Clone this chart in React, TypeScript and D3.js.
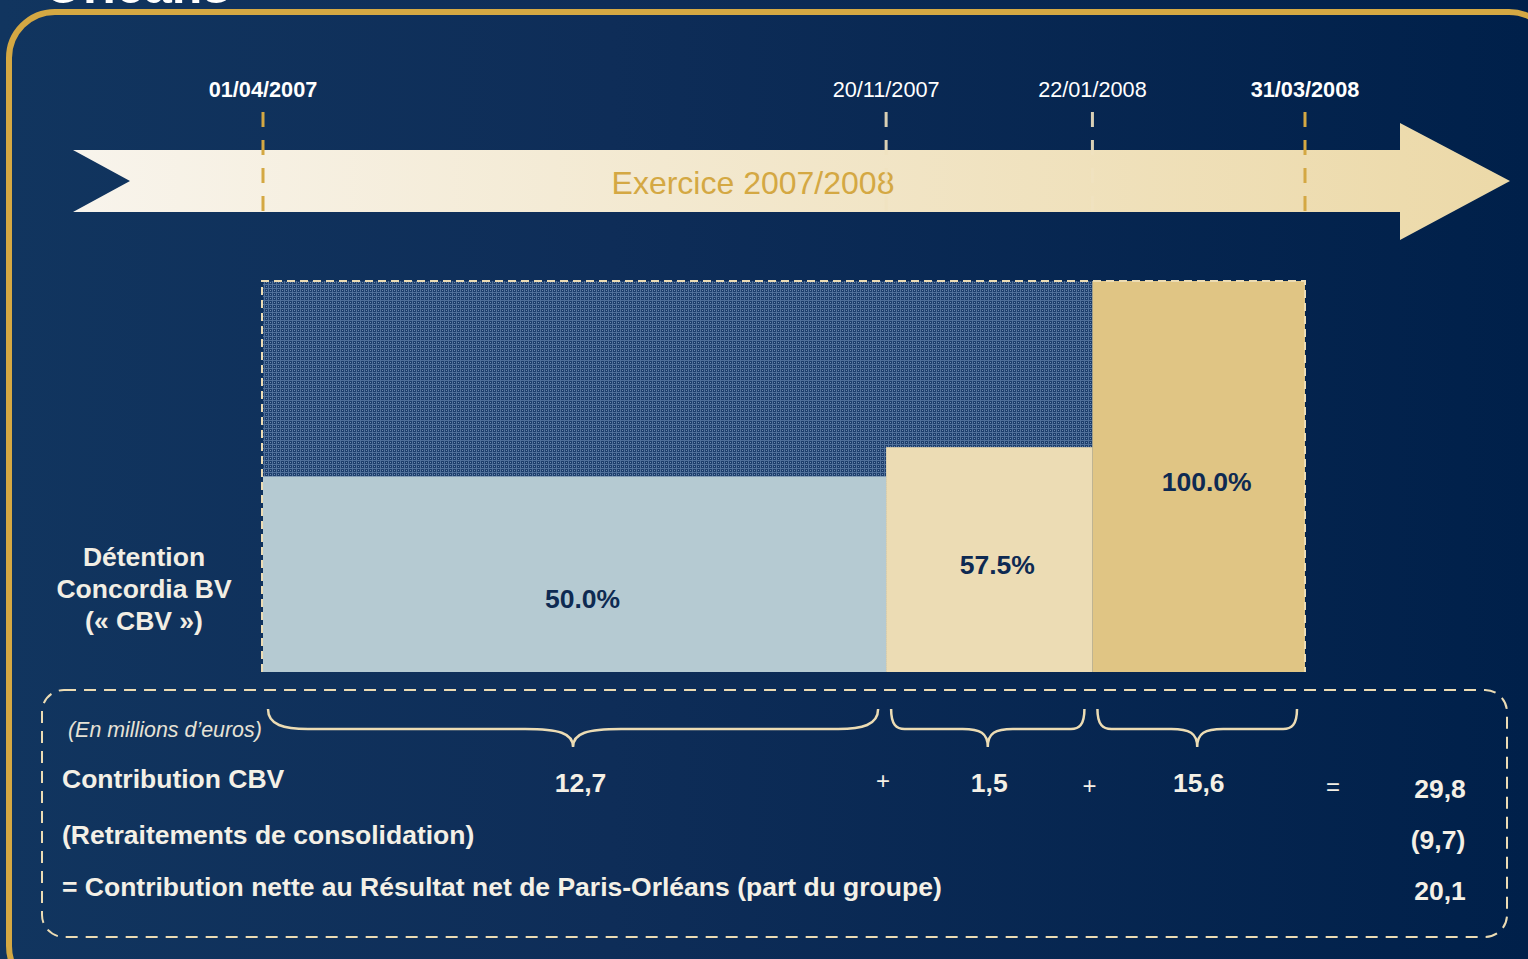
import React from 'react';
import * as d3 from 'd3';

// timeline dates (period boundaries) and which ones are year ends
const dates = ['01/04/2007', '20/11/2007', '22/01/2008', '31/03/2008'];
const dateBold = [true, false, false, true];
// share of the drawing width given to each holding period
const periodShare = [0.598, 0.198, 0.204];
// CBV holding per period (%)
const holdingPct = [50.0, 57.5, 100.0];
// contribution per period (EUR m)
const contributions = [12.7, 1.5, 15.6];
const totalLabel = 'Contribution CBV';
const total = 29.8;
const restatementLabel = '(Retraitements de consolidation)';
const restatement = -9.7;
const netLabel = '= Contribution nette au Résultat net de Paris-Orléans (part du groupe)';
const net = 20.1;

const W = 1528;
const H = 959;
const FONT = '"Liberation Sans", Arial, sans-serif';
const CREAM = '#ecdcb4';
const GOLD = '#d4a843';
const NAVY_TXT = '#0e2a52';

const fr = d3.formatLocale({ decimal: ',', thousands: ' ', grouping: [3], currency: ['', '€'] });
const fmtNum = (v: number) => (v < 0 ? `(${fr.format('.1f')(-v)})` : fr.format('.1f')(v));
const fmtPct = d3.format('.1f');

export default function App() {
  const bounds = [0, ...Array.from(d3.cumsum(periodShare))];
  const x = d3.scaleLinear().domain([0, 1]).range([263, 1305]);
  const y = d3.scaleLinear().domain([0, 100]).range([672, 281]);

  const segs = holdingPct.map((p, i) => ({
    p,
    x0: x(bounds[i]),
    x1: x(bounds[i + 1]),
    c: contributions[i],
  }));
  const barFill = ['#b5cad2', '#ecdcb4', '#e0c584'];

  // curly brace under a period
  const brace = (a: number, b: number) => {
    const y0 = 709, y1 = 729, y2 = 747;
    const w = b - a;
    const m = (a + b) / 2;
    const e = Math.min(40, w * 0.07);
    const t = Math.min(48, w * 0.13);
    const p = d3.path();
    p.moveTo(a, y0);
    p.bezierCurveTo(a, y1 - 4, a + e * 0.4, y1, a + e, y1);
    p.lineTo(m - t, y1);
    p.bezierCurveTo(m - t * 0.3, y1, m, y1 + 4, m, y2);
    p.bezierCurveTo(m, y1 + 4, m + t * 0.3, y1, m + t, y1);
    p.lineTo(b - e, y1);
    p.bezierCurveTo(b - e * 0.4, y1, b, y1 - 4, b, y0);
    return p.toString();
  };

  const arrowPath = d3.path();
  arrowPath.moveTo(73, 150);
  arrowPath.lineTo(1400, 150);
  arrowPath.lineTo(1400, 123);
  arrowPath.lineTo(1510, 181);
  arrowPath.lineTo(1400, 240);
  arrowPath.lineTo(1400, 212);
  arrowPath.lineTo(73, 212);
  arrowPath.lineTo(130, 181);
  arrowPath.closePath();

  const top = y(100);
  const base = y(0);

  return (
    <svg
      width={W}
      height={H}
      style={{ position: 'fixed', left: 0, top: 0, fontFamily: FONT }}
    >
      <defs>
        <linearGradient id="bg" x1="0" x2="1" y1="0" y2="0">
          <stop offset="0" stopColor="#11355f" />
          <stop offset="0.4" stopColor="#0e2d58" />
          <stop offset="1" stopColor="#00204a" />
        </linearGradient>
        <linearGradient id="arrow" x1="0" x2="1" y1="0" y2="0">
          <stop offset="0" stopColor="#f8f4ec" />
          <stop offset="1" stopColor="#ecd9a8" />
        </linearGradient>
        <pattern id="hatch" width="4" height="4" patternUnits="userSpaceOnUse">
          <rect width="4" height="4" fill="#1d3e6c" />
          <rect x="0" y="0" width="1" height="4" fill="#50709a" />
          <rect x="0" y="0" width="4" height="1" fill="#50709a" />
          <rect x="2" y="2" width="1" height="1" fill="#6d89ad" />
        </pattern>
      </defs>

      <rect width={W} height={H} fill="url(#bg)" />

      {/* page title, cut off at the top like the source slide */}
      <text x={44} y={3} fill="#ffffff" fontSize={50} fontWeight="bold">Orléans</text>

      {/* gold frame */}
      <rect x={9} y={12} width={1546} height={980} rx={46} fill="none" stroke={GOLD} strokeWidth={6} />

      {/* timeline arrow */}
      <path d={arrowPath.toString()} fill="url(#arrow)" />
      <text x={753} y={194} textAnchor="middle" fill={GOLD} fontSize={32}>Exercice 2007/2008</text>

      {dates.map((d, i) => {
        const px = x(bounds[i]);
        return (
          <g key={d}>
            <line
              x1={px}
              x2={px}
              y1={112}
              y2={211}
              stroke={dateBold[i] ? GOLD : '#f0e2c0'}
              strokeOpacity={dateBold[i] ? 1 : 0.9}
              strokeWidth={3}
              strokeDasharray="15 13"
            />
            <text
              x={px}
              y={97}
              textAnchor="middle"
              fill="#ffffff"
              fontSize={21.7}
              fontWeight={dateBold[i] ? 'bold' : 'normal'}
            >
              {d}
            </text>
          </g>
        );
      })}

      {/* holding area */}
      <rect x={x(0)} y={top} width={x(1) - x(0)} height={base - top} fill="url(#hatch)" />
      {segs.map((s, i) => (
        <rect key={i} x={s.x0} y={y(s.p)} width={s.x1 - s.x0} height={base - y(s.p)} fill={barFill[i]} />
      ))}
      <path
        d={`M${x(0) - 1},${base} L${x(0) - 1},${top} L${x(1)},${top} L${x(1)},${base}`}
        fill="none"
        stroke={CREAM}
        strokeWidth={2}
        strokeDasharray="8 5"
      />
      {segs.map((s, i) => (
        <text
          key={i}
          x={(s.x0 + s.x1) / 2 + 8}
          y={(y(s.p) + base) / 2 + (i === 0 ? 34 : 14)}
          textAnchor="middle"
          fill={NAVY_TXT}
          fontSize={26.5}
          fontWeight="bold"
        >
          {fmtPct(s.p)}%
        </text>
      ))}

      <g fill="#f2eee4" fontSize={26.5} fontWeight="bold" textAnchor="middle">
        <text x={144} y={566}>Détention</text>
        <text x={144} y={598}>Concordia BV</text>
        <text x={144} y={630}>(« CBV »)</text>
      </g>

      {/* contribution box */}
      <rect
        x={42}
        y={690}
        width={1465}
        height={247}
        rx={22}
        fill="none"
        stroke={CREAM}
        strokeWidth={2}
        strokeDasharray="12 8"
      />
      <text x={68} y={737} fill="#e6e2d6" fontSize={21.4} fontStyle="italic">(En millions d’euros)</text>

      {segs.map((s, i) => (
        <path
          key={i}
          d={brace(s.x0 + 5, s.x1 - 8)}
          fill="none"
          stroke={CREAM}
          strokeWidth={2.5}
        />
      ))}

      <g fill="#f4f0e6" fontWeight="bold" fontSize={26.5}>
        <text x={62} y={788}>{totalLabel}</text>
        {segs.map((s, i) => (
          <text key={i} x={(s.x0 + s.x1) / 2 + (i === 0 ? 6 : 0)} y={792} textAnchor="middle">
            {fmtNum(s.c)}
          </text>
        ))}
        <text x={1440} y={798} textAnchor="middle">{fmtNum(total)}</text>
        <text x={62} y={844}>{restatementLabel}</text>
        <text x={1438} y={849} textAnchor="middle">{fmtNum(restatement)}</text>
        <text x={62} y={896}>{netLabel}</text>
        <text x={1440} y={900} textAnchor="middle">{fmtNum(net)}</text>
      </g>
      <g fill="#f4f0e6" fontSize={24} textAnchor="middle">
        {segs.slice(1).map((s, i) => (
          <text key={i} x={s.x0 - 3} y={789 + i * 5}>+</text>
        ))}
        <text x={1333} y={795}>=</text>
      </g>
    </svg>
  );
}
